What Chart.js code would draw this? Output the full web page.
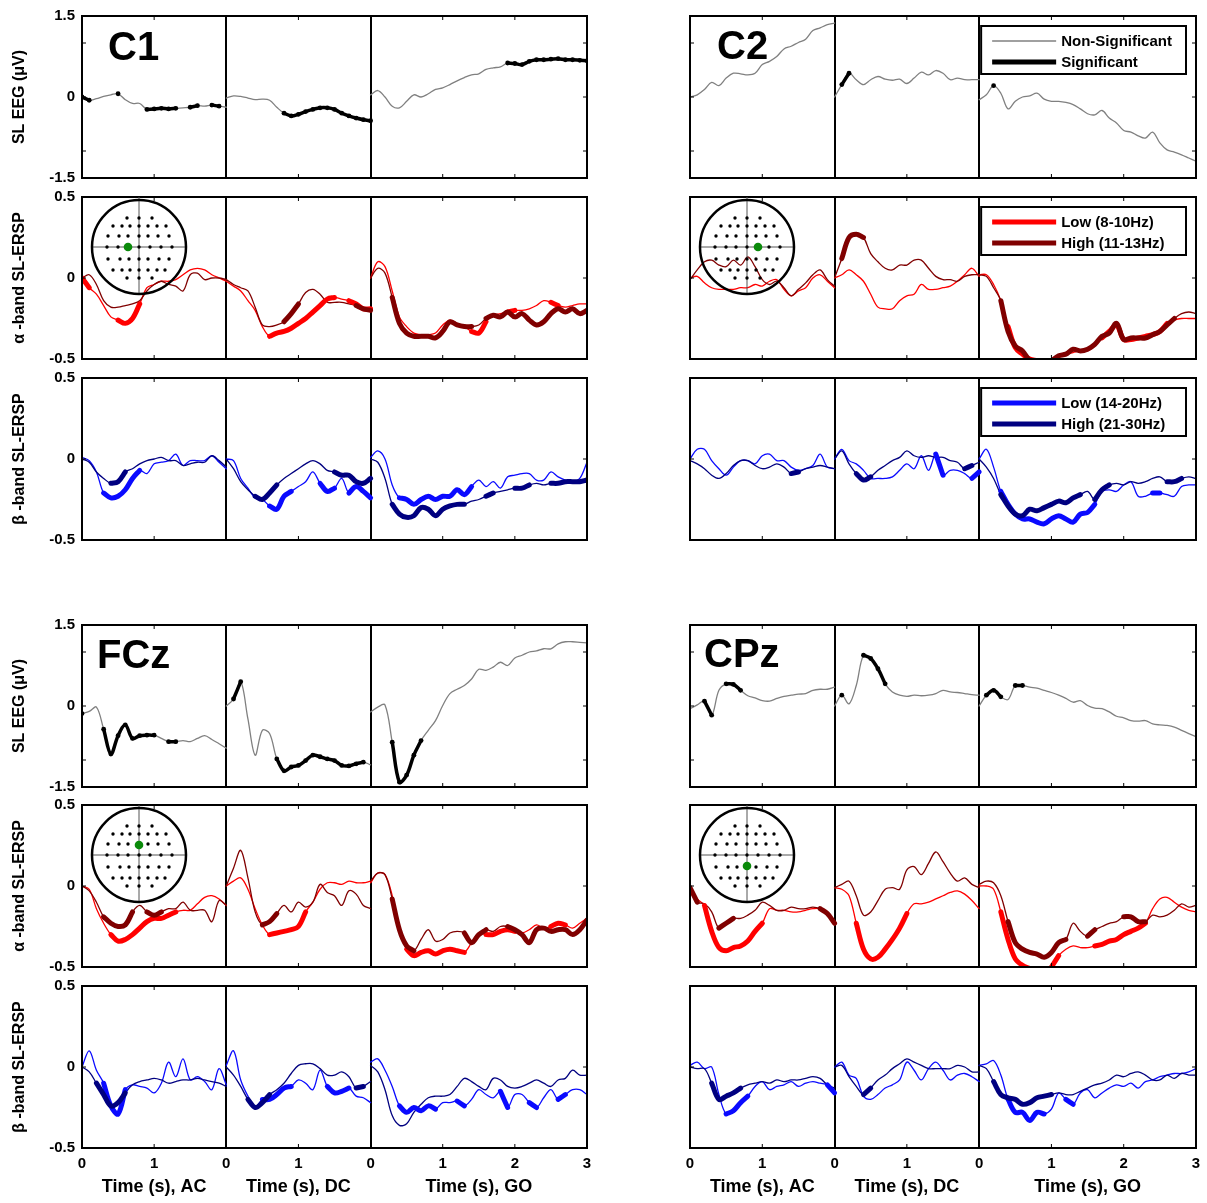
<!DOCTYPE html>
<html>
<head>
<meta charset="utf-8">
<script src="https://cdn.jsdelivr.net/npm/chart.js@4.4.0/dist/chart.umd.min.js"></script>
<style>
  body { margin: 0; background: #fff; width: 1207px; height: 1203px; position: relative; overflow: hidden; }
  canvas { position: absolute; }
</style>
</head>
<body>
<script>
// time axis: AC 0-2 s, DC 0-2 s, GO 0-3 s, sampled every 0.1 s
const segOffset = [0, 2, 4];
const segLen = [2, 2, 3];
const step = 0.1;
const xTickLabels = ['0', '1', '0', '1', '0', '1', '2', '3'];
const xTitles = [[1, 'Time (s), AC'], [3, 'Time (s), DC'], [5.5, 'Time (s), GO']];

// significance ranges: [segment, from, to] (seconds inside the segment)

// ---- C1 ----
const c1Eeg = [
  0, -0.06, -0.03, 0.01, 0.04, 0.06, -0.05, -0.12, -0.12, -0.23, -0.22, -0.21, -0.22, -0.21, -0.2, -0.19, -0.16, -0.17, -0.15, -0.17, -0.19,
  -0.02, 0.02, 0.01, -0.02, -0.05, -0.04, -0.06, -0.19, -0.3, -0.35, -0.32, -0.27, -0.23, -0.2, -0.2, -0.23, -0.3, -0.35, -0.39, -0.42, -0.44,
  0.04, 0.12, 0, -0.17, -0.2, -0.08, 0.04, 0, 0.06, 0.14, 0.17, 0.23, 0.3, 0.36, 0.41, 0.43, 0.51, 0.54, 0.56, 0.63, 0.62, 0.6, 0.66, 0.69, 0.69, 0.7, 0.71, 0.69, 0.69, 0.68, 0.67];
const c1EegSig = [[0, 0, 0.1], [0, 0.5, 0.5], [0, 0.9, 1.3], [0, 1.5, 1.6], [0, 1.8, 1.9], [1, 0.8, 1.4], [1, 1.5, 2.0], [2, 1.9, 3.0]];
const c1AlphaLow = [
  0, -0.06, -0.1, -0.17, -0.24, -0.26, -0.28, -0.25, -0.16, -0.06, -0.04, -0.02, -0.02, -0.01, 0.02, 0.05, 0.06, 0.05, 0.02, 0, -0.02,
  -0.02, -0.05, -0.08, -0.14, -0.2, -0.3, -0.36, -0.34, -0.33, -0.31, -0.28, -0.25, -0.21, -0.17, -0.13, -0.12, -0.13, -0.14, -0.16, -0.19, -0.19,
  0, 0.1, 0.07, -0.08, -0.24, -0.3, -0.34, -0.35, -0.35, -0.34, -0.29, -0.26, -0.28, -0.3, -0.33, -0.34, -0.27, -0.23, -0.22, -0.21, -0.2, -0.2, -0.19, -0.17, -0.14, -0.15, -0.17, -0.18, -0.17, -0.16, -0.16];
const c1AlphaLowSig = [[0, 0, 0.1], [0, 0.5, 0.8], [1, 0.6, 1.5], [1, 1.7, 2.0], [2, 1.4, 1.6], [2, 1.9, 2.0], [2, 2.5, 2.6]];
const c1AlphaHigh = [
  0, 0.02, -0.04, -0.14, -0.18, -0.18, -0.17, -0.16, -0.14, -0.08, -0.04, -0.02, -0.04, -0.05, -0.08, 0.02, 0.03, -0.01, 0, 0, -0.01,
  -0.01, -0.04, -0.06, -0.08, -0.18, -0.29, -0.3, -0.29, -0.27, -0.22, -0.16, -0.09, -0.07, -0.1, -0.15, -0.15, -0.15, -0.16, -0.17, -0.19, -0.2,
  0, 0.06, 0.03, -0.12, -0.28, -0.34, -0.36, -0.36, -0.36, -0.37, -0.33, -0.27, -0.29, -0.3, -0.3, -0.29, -0.25, -0.23, -0.24, -0.21, -0.24, -0.22, -0.26, -0.29, -0.27, -0.22, -0.19, -0.21, -0.19, -0.22, -0.2];
const c1AlphaHighSig = [[1, 0.8, 1.0], [1, 1.8, 2.0], [2, 0.3, 1.0], [2, 1.1, 1.4], [2, 1.6, 3.0]];
const c1BetaLow = [
  0.01, -0.01, -0.08, -0.21, -0.24, -0.23, -0.19, -0.12, -0.07, -0.09, -0.03, -0.02, -0.01, 0.03, -0.04, -0.01, -0.01, -0.01, 0.02, -0.02, -0.06,
  0, -0.01, -0.12, -0.18, -0.24, -0.25, -0.29, -0.31, -0.23, -0.2, -0.17, -0.14, -0.08, -0.15, -0.2, -0.18, -0.12, -0.21, -0.17, -0.2, -0.24,
  0.01, 0.05, 0, -0.16, -0.24, -0.25, -0.28, -0.25, -0.23, -0.25, -0.23, -0.23, -0.19, -0.22, -0.17, -0.13, -0.17, -0.14, -0.18, -0.11, -0.1, -0.09, -0.09, -0.13, -0.13, -0.08, -0.11, -0.13, -0.14, -0.12, -0.02];
const c1BetaLowSig = [[0, 0.3, 0.8], [1, 0.6, 0.9], [1, 1.3, 1.5], [1, 1.7, 2.0], [2, 0.4, 1.4]];
const c1BetaHigh = [
  0, -0.02, -0.08, -0.12, -0.15, -0.14, -0.08, -0.06, -0.03, -0.01, 0, 0.01, -0.01, -0.01, -0.04, -0.03, -0.02, -0.02, 0.02, -0.01, -0.05,
  0, -0.06, -0.14, -0.19, -0.23, -0.25, -0.21, -0.16, -0.12, -0.09, -0.06, -0.03, -0.01, -0.03, -0.07, -0.08, -0.1, -0.1, -0.14, -0.15, -0.12,
  0, -0.02, -0.12, -0.28, -0.34, -0.36, -0.35, -0.3, -0.31, -0.35, -0.31, -0.29, -0.28, -0.28, -0.26, -0.25, -0.23, -0.21, -0.2, -0.19, -0.18, -0.18, -0.16, -0.15, -0.16, -0.15, -0.15, -0.14, -0.14, -0.14, -0.13];
const c1BetaHighSig = [[0, 0.4, 0.6], [1, 0.4, 0.7], [1, 1.5, 1.7], [1, 1.8, 2.0], [2, 0.3, 1.0], [2, 1.1, 1.3], [2, 1.6, 1.7], [2, 2.0, 2.2], [2, 2.5, 3.0]];

// ---- C2 ----
const c2Eeg = [
  0, 0.04, 0.14, 0.27, 0.21, 0.35, 0.44, 0.43, 0.41, 0.44, 0.6, 0.66, 0.75, 0.89, 0.94, 1.01, 1.07, 1.23, 1.28, 1.34, 1.37,
  0, 0.23, 0.44, 0.32, 0.23, 0.32, 0.38, 0.33, 0.31, 0.33, 0.25, 0.35, 0.46, 0.41, 0.49, 0.44, 0.32, 0.35, 0.32, 0.32, 0.32,
  -0.05, 0.04, 0.21, 0.07, -0.22, -0.08, 0, 0.02, 0.07, -0.04, -0.08, -0.08, -0.1, -0.14, -0.22, -0.31, -0.33, -0.25, -0.39, -0.48, -0.62, -0.65, -0.72, -0.76, -0.65, -0.85, -0.98, -1.02, -1.07, -1.13, -1.19];
const c2EegSig = [[1, 0.1, 0.2], [2, 0.2, 0.2]];
const c2AlphaLow = [
  0, 0.01, -0.03, -0.06, -0.07, -0.07, -0.07, -0.06, -0.06, -0.04, -0.05, -0.02, -0.01, -0.07, -0.11, -0.08, -0.06, 0, 0.02, -0.02, -0.06,
  0, 0.02, 0.05, 0.02, -0.02, -0.1, -0.18, -0.19, -0.19, -0.14, -0.11, -0.1, -0.04, -0.07, -0.07, -0.06, -0.05, -0.02, 0.02, 0.06, 0.01,
  0.02, 0.02, -0.04, -0.14, -0.3, -0.43, -0.47, -0.5, -0.51, -0.5, -0.5, -0.49, -0.47, -0.46, -0.45, -0.45, -0.42, -0.37, -0.33, -0.29, -0.38, -0.38, -0.37, -0.36, -0.35, -0.33, -0.28, -0.26, -0.25, -0.25, -0.25];
const c2AlphaLowSig = [[2, 0.4, 0.8], [2, 1.7, 1.9], [2, 2.0, 2.6]];
const c2AlphaHigh = [
  -0.01, 0.05, 0.1, 0.11, 0.08, 0.07, 0.11, 0.08, 0.13, 0.07, -0.01, -0.04, -0.02, -0.06, -0.11, -0.07, -0.03, 0.02, 0.05, -0.01, -0.05,
  0, 0.12, 0.25, 0.27, 0.25, 0.15, 0.1, 0.06, 0.05, 0.08, 0.08, 0.11, 0.11, 0.06, 0.01, -0.01, -0.01, -0.02, 0.01, 0.02, 0.02,
  0.02, 0.01, -0.06, -0.14, -0.33, -0.42, -0.45, -0.51, -0.53, -0.53, -0.51, -0.48, -0.47, -0.44, -0.45, -0.44, -0.41, -0.36, -0.34, -0.28, -0.38, -0.37, -0.37, -0.37, -0.35, -0.33, -0.29, -0.25, -0.22, -0.21, -0.22];
const c2AlphaHighSig = [[1, 0.1, 0.4], [2, 0.3, 1.9], [2, 2.0, 2.7]];
const c2BetaLow = [
  0, 0.06, 0.06, -0.01, -0.06, -0.1, -0.05, -0.01, -0.01, -0.03, 0.02, 0.03, -0.01, -0.01, -0.05, -0.07, -0.06, -0.04, 0.03, -0.05, -0.06,
  0, 0.06, -0.01, -0.03, -0.07, -0.12, -0.12, -0.12, -0.11, -0.07, -0.03, -0.06, 0.02, -0.07, 0.03, -0.1, -0.07, -0.07, -0.09, -0.12, -0.08,
  0, 0.06, -0.05, -0.2, -0.28, -0.34, -0.37, -0.37, -0.39, -0.4, -0.37, -0.35, -0.37, -0.39, -0.34, -0.33, -0.28, -0.2, -0.19, -0.2, -0.16, -0.14, -0.23, -0.23, -0.21, -0.21, -0.22, -0.23, -0.17, -0.16, -0.16];
const c2BetaLowSig = [[1, 1.4, 1.5], [1, 1.9, 2.0], [2, 0.3, 1.6], [2, 2.4, 2.5]];
const c2BetaHigh = [
  -0.01, -0.03, -0.06, -0.1, -0.12, -0.09, -0.04, -0.01, -0.01, -0.04, -0.06, -0.05, -0.03, -0.05, -0.09, -0.08, -0.06, -0.05, -0.04, -0.05, -0.06,
  0, 0.05, -0.03, -0.09, -0.13, -0.11, -0.07, -0.04, -0.01, 0.01, 0.05, 0.02, 0.01, 0.02, 0.01, 0.01, -0.01, -0.02, -0.06, -0.04, -0.02,
  0, -0.05, -0.12, -0.22, -0.29, -0.34, -0.35, -0.31, -0.32, -0.3, -0.28, -0.26, -0.27, -0.24, -0.22, -0.2, -0.25, -0.19, -0.16, -0.15, -0.16, -0.14, -0.15, -0.14, -0.12, -0.11, -0.14, -0.14, -0.12, -0.11, -0.12];
const c2BetaHighSig = [[0, 1.4, 1.5], [1, 0.3, 0.5], [1, 1.8, 1.9], [2, 0.3, 1.4], [2, 1.6, 1.8], [2, 2.6, 2.8]];

// ---- FCz ----
const fczEeg = [
  -0.14, -0.1, -0.02, -0.43, -0.89, -0.55, -0.35, -0.6, -0.55, -0.54, -0.54, -0.6, -0.66, -0.66, -0.64, -0.66, -0.6, -0.55, -0.62, -0.7, -0.78,
  0, 0.13, 0.45, -0.24, -0.91, -0.45, -0.51, -0.98, -1.2, -1.13, -1.1, -1.01, -0.91, -0.94, -0.98, -1.01, -1.1, -1.11, -1.07, -1.04, -1.09,
  -0.11, -0.02, 0.02, -0.67, -1.41, -1.28, -0.91, -0.64, -0.45, -0.27, 0.01, 0.23, 0.31, 0.38, 0.5, 0.68, 0.66, 0.72, 0.81, 0.75, 0.89, 0.94, 1.0, 1.02, 1.06, 1.06, 1.15, 1.19, 1.19, 1.18, 1.17];
const fczEegSig = [[0, 0, 0], [0, 0.3, 0.5], [0, 0.6, 0.9], [0, 1.0, 1.0], [0, 1.2, 1.3], [1, 0.1, 0.2], [1, 0.7, 1.9], [2, 0.3, 0.7]];
const fczAlphaLow = [
  0, -0.02, -0.14, -0.23, -0.3, -0.34, -0.33, -0.3, -0.26, -0.22, -0.2, -0.2, -0.18, -0.16, -0.15, -0.15, -0.11, -0.07, -0.06, -0.08, -0.12,
  0, 0.03, 0.05, -0.02, -0.14, -0.24, -0.3, -0.29, -0.28, -0.27, -0.25, -0.16, -0.1, -0.02, 0.02, 0.02, 0.01, 0.03, 0.02, 0.02, 0.03,
  0.02, 0.08, 0.07, -0.06, -0.28, -0.39, -0.43, -0.41, -0.4, -0.42, -0.4, -0.39, -0.4, -0.41, -0.35, -0.29, -0.3, -0.3, -0.28, -0.27, -0.28, -0.29, -0.27, -0.24, -0.26, -0.25, -0.23, -0.24, -0.26, -0.23, -0.2];
const fczAlphaLowSig = [[0, 0.4, 0.9], [0, 1.0, 1.3], [1, 0.6, 1.1], [2, 0.5, 1.3], [2, 1.6, 2.0], [2, 2.5, 2.7]];
const fczAlphaHigh = [
  0, -0.03, -0.1, -0.19, -0.23, -0.25, -0.24, -0.16, -0.12, -0.16, -0.18, -0.16, -0.14, -0.14, -0.1, -0.15, -0.15, -0.15, -0.22, -0.09, -0.12,
  0, 0.11, 0.22, 0.05, -0.16, -0.24, -0.22, -0.17, -0.12, -0.16, -0.1, -0.13, -0.1, 0.01, -0.04, -0.06, -0.12, -0.03, -0.05, -0.12, -0.14,
  0.03, 0.08, 0.07, -0.08, -0.27, -0.37, -0.4, -0.33, -0.27, -0.34, -0.33, -0.29, -0.28, -0.29, -0.35, -0.3, -0.27, -0.28, -0.25, -0.25, -0.27, -0.3, -0.35, -0.27, -0.26, -0.28, -0.27, -0.27, -0.3, -0.27, -0.21];
const fczAlphaHighSig = [[0, 0.3, 0.7], [0, 0.9, 1.1], [1, 0.5, 0.7], [2, 0.3, 0.6], [2, 1.3, 1.6], [2, 1.9, 3.0]];
const fczBetaLow = [
  0, 0.1, -0.02, -0.1, -0.24, -0.29, -0.14, -0.11, -0.12, -0.13, -0.16, -0.1, 0.03, -0.06, 0.05, -0.08, -0.06, -0.09, -0.14, -0.01, -0.11,
  0.01, 0.1, -0.08, -0.18, -0.25, -0.2, -0.2, -0.17, -0.13, -0.12, -0.08, -0.1, -0.14, -0.02, -0.12, -0.16, -0.15, -0.13, -0.18, -0.19, -0.22,
  0.03, 0.05, -0.02, -0.12, -0.24, -0.28, -0.25, -0.27, -0.24, -0.26, -0.22, -0.22, -0.21, -0.24, -0.2, -0.14, -0.17, -0.19, -0.15, -0.25, -0.17, -0.17, -0.22, -0.25, -0.19, -0.14, -0.2, -0.17, -0.14, -0.14, -0.17];
const fczBetaLowSig = [[0, 0.3, 0.6], [1, 0.5, 0.9], [1, 1.4, 1.7], [2, 0.4, 0.9], [2, 1.2, 1.3], [2, 1.8, 1.9], [2, 2.2, 2.3], [2, 2.6, 2.7]];
const fczBetaHigh = [
  0, -0.03, -0.1, -0.17, -0.24, -0.22, -0.16, -0.11, -0.09, -0.08, -0.07, -0.08, -0.1, -0.09, -0.08, -0.08, -0.07, -0.08, -0.09, -0.1, -0.12,
  0, -0.05, -0.12, -0.2, -0.25, -0.22, -0.17, -0.14, -0.1, -0.04, 0.01, 0.02, 0.02, -0.01, -0.05, -0.05, -0.03, -0.06, -0.13, -0.12, -0.09,
  0.01, -0.03, -0.14, -0.3, -0.36, -0.35, -0.28, -0.23, -0.19, -0.18, -0.18, -0.17, -0.12, -0.07, -0.09, -0.12, -0.14, -0.07, -0.08, -0.12, -0.13, -0.12, -0.1, -0.08, -0.1, -0.12, -0.08, -0.07, -0.02, -0.05, -0.05];
const fczBetaHighSig = [[0, 0.2, 0.6], [1, 0.3, 0.6], [1, 1.8, 1.9]];

// ---- CPz ----
const cpzEeg = [
  -0.05, 0.02, 0.09, -0.17, 0.29, 0.41, 0.4, 0.29, 0.19, 0.15, 0.1, 0.09, 0.14, 0.18, 0.2, 0.22, 0.23, 0.29, 0.31, 0.31, 0.35,
  0, 0.2, 0.04, 0.38, 0.94, 0.88, 0.69, 0.41, 0.26, 0.2, 0.18, 0.2, 0.19, 0.2, 0.23, 0.29, 0.26, 0.25, 0.23, 0.21, 0.2,
  0, 0.2, 0.29, 0.17, 0.12, 0.38, 0.38, 0.35, 0.33, 0.29, 0.25, 0.2, 0.14, 0.07, 0.1, 0.01, -0.04, -0.05, -0.11, -0.19, -0.22, -0.27, -0.28, -0.27, -0.33, -0.35, -0.36, -0.39, -0.45, -0.51, -0.57];
const cpzEegSig = [[0, 0.2, 0.3], [0, 0.5, 0.7], [1, 0.1, 0.1], [1, 0.4, 0.7], [2, 0.1, 0.3], [2, 0.5, 0.6]];
const cpzAlphaLow = [
  -0.01, -0.08, -0.12, -0.28, -0.38, -0.4, -0.38, -0.37, -0.34, -0.28, -0.23, -0.14, -0.15, -0.15, -0.16, -0.16, -0.15, -0.14, -0.14, -0.17, -0.22,
  -0.01, -0.02, -0.06, -0.23, -0.39, -0.45, -0.44, -0.39, -0.33, -0.26, -0.17, -0.11, -0.11, -0.1, -0.08, -0.06, -0.04, -0.03, -0.05, -0.09, -0.14,
  0, 0, -0.02, -0.16, -0.33, -0.45, -0.49, -0.51, -0.53, -0.53, -0.5, -0.43, -0.39, -0.37, -0.38, -0.38, -0.37, -0.36, -0.34, -0.33, -0.3, -0.28, -0.26, -0.23, -0.14, -0.08, -0.07, -0.1, -0.13, -0.15, -0.16];
const cpzAlphaLowSig = [[0, 0.2, 1.0], [1, 0.3, 1.0], [2, 0.3, 0.7], [2, 1.0, 1.1], [2, 1.6, 2.3]];
const cpzAlphaHigh = [
  -0.01, -0.1, -0.11, -0.16, -0.26, -0.23, -0.2, -0.2, -0.18, -0.15, -0.1, -0.12, -0.15, -0.15, -0.13, -0.14, -0.14, -0.13, -0.14, -0.17, -0.23,
  -0.01, 0.01, 0.03, -0.06, -0.18, -0.16, -0.09, -0.02, -0.01, -0.02, 0.1, 0.12, 0.07, 0.14, 0.21, 0.15, 0.08, 0.03, 0.05, 0.01, -0.01,
  0.01, 0.03, 0.02, -0.06, -0.22, -0.35, -0.39, -0.41, -0.42, -0.44, -0.41, -0.35, -0.33, -0.23, -0.28, -0.31, -0.27, -0.25, -0.23, -0.22, -0.19, -0.19, -0.22, -0.22, -0.18, -0.19, -0.18, -0.15, -0.11, -0.13, -0.12];
const cpzAlphaHighSig = [[0, 0, 0.1], [0, 0.4, 0.6], [0, 1.8, 2.0], [2, 0.4, 1.2], [2, 1.5, 1.6], [2, 2.0, 2.3]];
const cpzBetaLow = [
  0.01, 0.03, -0.01, 0, -0.17, -0.29, -0.27, -0.22, -0.18, -0.12, -0.09, -0.14, -0.12, -0.11, -0.09, -0.12, -0.1, -0.09, -0.1, -0.11, -0.16,
  0, 0.03, -0.05, -0.07, -0.18, -0.2, -0.17, -0.13, -0.11, -0.08, 0.03, -0.02, -0.08, -0.01, 0.03, -0.02, -0.08, -0.05, -0.04, -0.06, -0.09,
  0.01, 0.02, 0.04, -0.05, -0.2, -0.28, -0.28, -0.33, -0.28, -0.29, -0.26, -0.16, -0.2, -0.23, -0.16, -0.14, -0.19, -0.16, -0.13, -0.11, -0.12, -0.1, -0.13, -0.09, -0.08, -0.06, -0.05, -0.04, -0.04, -0.03, -0.01];
const cpzBetaLowSig = [[0, 0.5, 0.6], [0, 0.7, 0.8], [0, 1.9, 2.0], [2, 0.4, 0.9], [2, 1.2, 1.3]];
const cpzBetaHigh = [
  0, -0.01, -0.01, -0.1, -0.2, -0.18, -0.16, -0.13, -0.11, -0.1, -0.09, -0.1, -0.08, -0.09, -0.08, -0.08, -0.07, -0.06, -0.07, -0.11, -0.13,
  0, 0.01, -0.06, -0.12, -0.17, -0.13, -0.08, -0.05, -0.01, 0.02, 0.05, 0.03, 0.01, -0.01, -0.01, -0.01, -0.01, 0.01, 0, -0.03, -0.03,
  0.01, -0.01, -0.09, -0.17, -0.19, -0.2, -0.23, -0.22, -0.19, -0.18, -0.17, -0.16, -0.17, -0.17, -0.15, -0.13, -0.11, -0.1, -0.08, -0.05, -0.06, -0.04, -0.03, -0.05, -0.08, -0.08, -0.05, -0.07, -0.04, -0.05, -0.05];
const cpzBetaHighSig = [[0, 0.3, 0.5], [0, 0.6, 0.7], [1, 0.4, 0.5], [2, 0.2, 0.4], [2, 0.5, 1.0]];

const panels = [
  { name: 'C1', col: 0, group: 0, eeg: [c1Eeg, c1EegSig],
    alpha: [c1AlphaLow, c1AlphaLowSig, c1AlphaHigh, c1AlphaHighSig], beta: [c1BetaLow, c1BetaLowSig, c1BetaHigh, c1BetaHighSig] },
  { name: 'C2', col: 1, group: 0, eeg: [c2Eeg, c2EegSig],
    alpha: [c2AlphaLow, c2AlphaLowSig, c2AlphaHigh, c2AlphaHighSig], beta: [c2BetaLow, c2BetaLowSig, c2BetaHigh, c2BetaHighSig] },
  { name: 'FCz', col: 0, group: 1, eeg: [fczEeg, fczEegSig],
    alpha: [fczAlphaLow, fczAlphaLowSig, fczAlphaHigh, fczAlphaHighSig], beta: [fczBetaLow, fczBetaLowSig, fczBetaHigh, fczBetaHighSig] },
  { name: 'CPz', col: 1, group: 1, eeg: [cpzEeg, cpzEegSig],
    alpha: [cpzAlphaLow, cpzAlphaLowSig, cpzAlphaHigh, cpzAlphaHighSig], beta: [cpzBetaLow, cpzBetaLowSig, cpzBetaHigh, cpzBetaHighSig] }
];

const rowKinds = [
  { key: 'eeg', title: 'SL EEG (\u03bcV)', min: -1.5, max: 1.5, ticks: [-1.5, -1, 0, 1, 1.5], labels: [-1.5, 0, 1.5],
    legend: [['Non-Significant', '#808080', 1.3], ['Significant', '#000000', 5]] },
  { key: 'alpha', title: '\u03b1 -band SL-ERSP', min: -0.5, max: 0.5, ticks: [-0.5, 0, 0.5], labels: [-0.5, 0, 0.5],
    colors: ['#ff0000', '#800000'], legend: [['Low (8-10Hz)', '#ff0000', 5], ['High (11-13Hz)', '#800000', 5]] },
  { key: 'beta', title: '\u03b2 -band SL-ERSP', min: -0.5, max: 0.5, ticks: [-0.5, 0, 0.5], labels: [-0.5, 0, 0.5],
    colors: ['#0a0aff', '#000080'], legend: [['Low (14-20Hz)', '#0a0aff', 5], ['High (21-30Hz)', '#000080', 5]] }
];

// layout (pixels)
const colX = [82, 690];
const colW = [505, 506];
const groupTop = [[16, 197, 378], [625, 805, 986]];
const plotH = 162;
const nameOffset = { C1: [26, 44], C2: [27, 43], FCz: [15, 43], CPz: [14, 42] };
const headDot = { C1: [-11, 0], C2: [11, 0], FCz: [0, -10], CPz: [0, 11] };
const scalpRows = [
  [-29, [-12, 0, 13]],
  [-21, [-26, -17, -9, 0, 9, 18, 27]],
  [-11, [-31, -20, -11, 0, 9, 19, 30]],
  [0, [-32, -21, -11, 0, 11, 22, 33]],
  [12, [-31, -19, -10, 0, 9, 20, 30]],
  [23, [-26, -17, -9, 0, 9, 18, 26]],
  [31, [-12, 0, 13]]
];

const FONT = '"Liberation Sans", Arial, Helvetica, sans-serif';
Chart.defaults.font.family = FONT;
Chart.defaults.color = '#000';
Chart.defaults.animation = false;

function toPoints(values, ranges) {
  const pts = [];
  let k = 0;
  segLen.forEach((len, s) => {
    const n = Math.round(len / step) + 1;
    for (let i = 0; i < n; i++, k++) {
      const t = i * step;
      let y = values[k];
      if (ranges && !ranges.some(r => r[0] === s && t >= r[1] - 1e-6 && t <= r[2] + 1e-6)) y = null;
      pts.push({ x: segOffset[s] + t, y: y });
    }
    pts.push({ x: segOffset[s] + len, y: null });
  });
  return pts;
}

function line(data, color, width, radius) {
  return {
    data: data, borderColor: color, backgroundColor: color, borderWidth: width,
    pointRadius: radius, pointHoverRadius: radius, pointBorderWidth: 0,
    tension: 0.35, spanGaps: false, clip: 0, fill: false,
    borderCapStyle: 'round', borderJoinStyle: 'round'
  };
}

// frame, inner tick marks, head map, electrode name, legend, x titles
const decor = {
  id: 'decor',
  afterDatasetsDraw(chart, args, o) {
    const { ctx, chartArea: a, scales: { x, y } } = chart;
    ctx.save();
    ctx.strokeStyle = '#000';
    ctx.lineWidth = 1;
    ctx.beginPath();
    [1, 3, 5, 6].forEach(v => {
      const px = x.getPixelForValue(v);
      ctx.moveTo(px, a.top); ctx.lineTo(px, a.top + 4);
      ctx.moveTo(px, a.bottom); ctx.lineTo(px, a.bottom - 4);
    });
    o.kind.ticks.filter(v => v !== o.kind.min && v !== o.kind.max).forEach(v => {
      const py = y.getPixelForValue(v);
      ctx.moveTo(a.left, py); ctx.lineTo(a.left + 4, py);
      ctx.moveTo(a.right, py); ctx.lineTo(a.right - 4, py);
    });
    ctx.stroke();
    ctx.lineWidth = 2;
    ctx.strokeRect(a.left, a.top, a.right - a.left, a.bottom - a.top);

    if (o.row === 0) {
      const off = nameOffset[o.name];
      ctx.fillStyle = '#000';
      ctx.font = 'bold 40px ' + FONT;
      ctx.textBaseline = 'alphabetic';
      ctx.fillText(o.name, a.left + off[0], a.top + off[1]);
    }
    if (o.row === 1) {
      const cx = a.left + 57, cy = a.top + 50, rad = 47;
      ctx.strokeStyle = '#555';
      ctx.lineWidth = 1;
      ctx.beginPath();
      ctx.moveTo(cx - rad, cy); ctx.lineTo(cx + rad, cy);
      ctx.moveTo(cx, a.top); ctx.lineTo(cx, cy + rad);
      ctx.stroke();
      ctx.fillStyle = '#000';
      scalpRows.forEach(([dy, xs]) => xs.forEach(dx => {
        ctx.beginPath(); ctx.arc(cx + dx, cy + dy, 1.7, 0, Math.PI * 2); ctx.fill();
      }));
      ctx.strokeStyle = '#000';
      ctx.lineWidth = 2.5;
      ctx.beginPath(); ctx.arc(cx, cy, rad, 0, Math.PI * 2); ctx.stroke();
      const g = headDot[o.name];
      ctx.fillStyle = '#0a8a0a';
      ctx.beginPath(); ctx.arc(cx + g[0], cy + g[1], 4.3, 0, Math.PI * 2); ctx.fill();
    }
    if (o.legend) {
      const bx = x.getPixelForValue(4) + 2, by = a.top + 10;
      const bw = a.right - 10 - bx, bh = 48;
      ctx.fillStyle = '#fff';
      ctx.fillRect(bx, by, bw, bh);
      ctx.strokeStyle = '#000';
      ctx.lineWidth = 2;
      ctx.strokeRect(bx, by, bw, bh);
      ctx.font = 'bold 15px ' + FONT;
      ctx.textBaseline = 'middle';
      o.kind.legend.forEach(([label, color, w], i) => {
        const ly = by + 15 + i * 21;
        ctx.strokeStyle = color;
        ctx.lineWidth = w;
        ctx.beginPath(); ctx.moveTo(bx + 11, ly); ctx.lineTo(bx + 75, ly); ctx.stroke();
        ctx.fillStyle = '#000';
        ctx.fillText(label, bx + 80, ly + 1);
      });
    }
    if (o.xTitles) {
      ctx.fillStyle = '#000';
      ctx.font = 'bold 18px ' + FONT;
      ctx.textAlign = 'center';
      ctx.textBaseline = 'middle';
      xTitles.forEach(([v, text]) => ctx.fillText(text, x.getPixelForValue(v), a.bottom + 39));
    }
    ctx.restore();
  }
};

function build(panel, r) {
  const kind = rowKinds[r];
  const L = colX[panel.col], W = colW[panel.col];
  const T = groupTop[panel.group][r];
  const bottomRow = panel.group === 1 && r === 2;
  const yW = panel.col === 0 ? L : 14;
  const xH = bottomRow ? 55 : 0;
  // paddings cover the half-height of the outer tick labels plus their padding
  const padT = 16, padR = 12, padB = bottomRow ? 2 : 16;

  const canvas = document.createElement('canvas');
  canvas.width = yW + W + padR;
  canvas.height = padT + plotH + xH + padB;
  canvas.style.left = (L - yW) + 'px';
  canvas.style.top = (T - padT) + 'px';
  document.body.appendChild(canvas);

  let datasets;
  if (r === 0) {
    const [vals, sig] = panel.eeg;
    datasets = [line(toPoints(vals, sig), '#000', 3.5, 2.4), line(toPoints(vals), '#808080', 1.3, 0)];
  } else {
    const [low, lowSig, high, highSig] = panel[kind.key];
    const [cLow, cHigh] = kind.colors;
    datasets = [
      line(toPoints(high, highSig), cHigh, 5, 0),
      line(toPoints(low, lowSig), cLow, 5, 0),
      line(toPoints(high), cHigh, 1.3, 0),
      line(toPoints(low), cLow, 1.3, 0)
    ];
  }

  const tickFont = { size: 15, weight: 'bold' };
  new Chart(canvas, {
    type: 'line',
    data: { datasets: datasets },
    options: {
      responsive: false,
      devicePixelRatio: 1,
      events: [],
      layout: { padding: { top: padT, right: padR, bottom: padB, left: 0 } },
      scales: {
        x: {
          type: 'linear', min: 0, max: 7,
          afterBuildTicks: s => { s.ticks = xTickLabels.map((_, i) => ({ value: i })); },
          afterFit: s => { s.height = xH; },
          border: { display: false },
          grid: {
            drawTicks: false, lineWidth: 2,
            color: c => (c.tick && (c.tick.value === 2 || c.tick.value === 4)) ? '#000' : 'rgba(0,0,0,0)'
          },
          ticks: { display: bottomRow, padding: 7, font: tickFont, maxRotation: 0, autoSkip: false,
            callback: v => xTickLabels[v] }
        },
        y: {
          min: kind.min, max: kind.max,
          afterBuildTicks: s => { s.ticks = kind.ticks.map(v => ({ value: v })); },
          afterFit: s => { s.width = yW; },
          border: { display: false },
          grid: { display: false, drawTicks: false },
          ticks: { display: panel.col === 0, padding: 7, font: tickFont,
            callback: v => kind.labels.includes(v) ? String(v) : '' },
          title: { display: panel.col === 0, text: kind.title, font: { size: 16, weight: 'bold' }, padding: { top: 10, bottom: 0 } }
        }
      },
      plugins: {
        legend: { display: false },
        tooltip: { enabled: false },
        decor: {
          kind: kind, row: r, name: panel.name,
          legend: panel.col === 1 && panel.group === 0,
          xTitles: bottomRow
        }
      }
    },
    plugins: [decor]
  });
}

panels.forEach(p => [0, 1, 2].forEach(r => build(p, r)));
</script>
</body>
</html>
